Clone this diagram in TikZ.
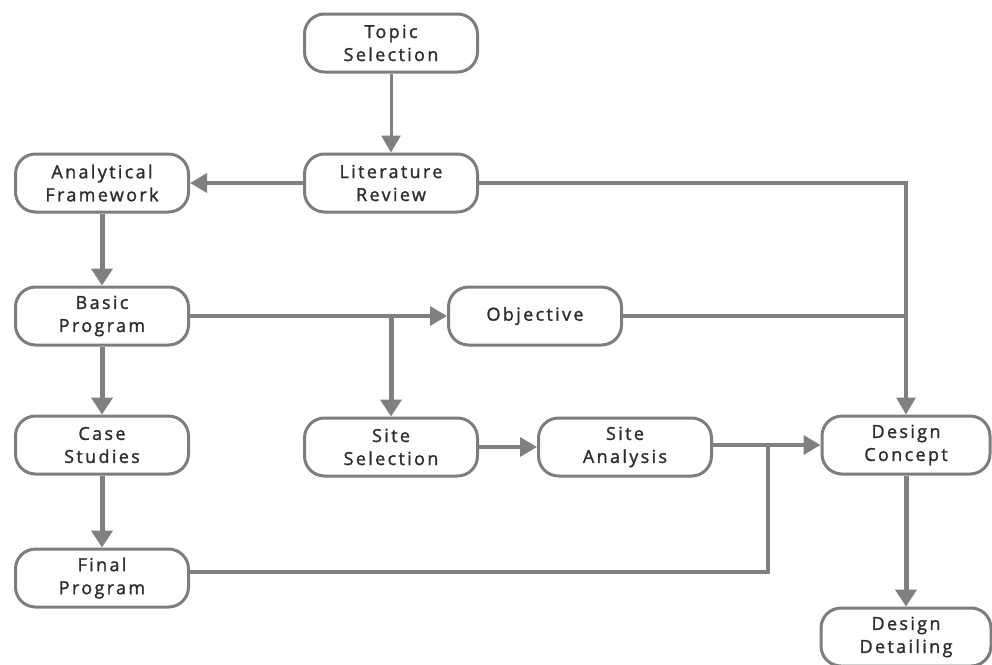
\documentclass[tikz,border=0pt]{standalone}
\usepackage{fontspec}
\setmainfont{Open Sans}[LetterSpace=13,FakeBold=1.4]
\usetikzlibrary{arrows.meta}
\definecolor{lineg}{RGB}{128,128,128}
\definecolor{boxg}{RGB}{125,125,125}
\definecolor{txt}{RGB}{45,45,45}
\tikzset{
  stepbox/.style={draw=boxg, line width=3pt, rounded corners=20pt, fill=white,
    minimum width=173pt, minimum height=58pt, inner sep=0pt, align=center,
    text=txt, font=\fontsize{18}{23}\selectfont},
  conn/.style={draw=lineg, line width=3.5pt},
  arr/.style={conn, -{Triangle[length=17pt,width=19pt]}},
  thick arr/.style={draw=lineg, line width=5pt, -{Triangle[length=17pt,width=21pt]}}
}
\begin{document}
\begin{tikzpicture}[x=1pt,y=-1pt]
\useasboundingbox (0,0) rectangle (992,664);
\node[stepbox] (ts) at (391,43) {Topic\\Selection};
\node[stepbox] (lr) at (391,183) {Literature\\Review};
\node[stepbox] (af) at (102,183) {Analytical\\Framework};
\node[stepbox] (bp) at (102,316) {Basic\\Program};
\node[stepbox] (ob) at (535,316) {Objective};
\node[stepbox] (cs) at (102,445) {Case\\Studies};
\node[stepbox] (ss) at (391,447) {Site\\Selection};
\node[stepbox] (sa) at (625,447) {Site\\Analysis};
\node[stepbox, minimum width=168pt] (dc) at (906,445) {Design\\Concept};
\node[stepbox, minimum width=170pt] (dd) at (906,637) {Design\\Detailing};
\node[stepbox] (fp) at (102,578) {Final\\Program};
\coordinate (j1) at (ss.north |- bp.east);
\coordinate (j2) at (768,445);
\draw[arr, line width=3pt] (ts) -- (lr);
\draw[arr] (lr) -- (af);
\draw[arr] (lr.east) -| (dc.north);
\draw[conn] (ob.east) -- (ob.east -| dc.north);
\draw[arr] (bp.east) -- (ob.west);
\draw[thick arr] (j1) -- (ss.north);
\draw[thick arr] (af) -- (bp);
\draw[thick arr] (bp) -- (cs);
\draw[thick arr] (cs) -- (fp);
\draw[arr] (ss) -- (sa);
\draw[arr] (sa.east |- dc.west) -- (dc.west);
\draw[conn] (fp.east |- 0,572) -| (j2);
\draw[thick arr] (dc) -- (dd);
\end{tikzpicture}
\end{document}
